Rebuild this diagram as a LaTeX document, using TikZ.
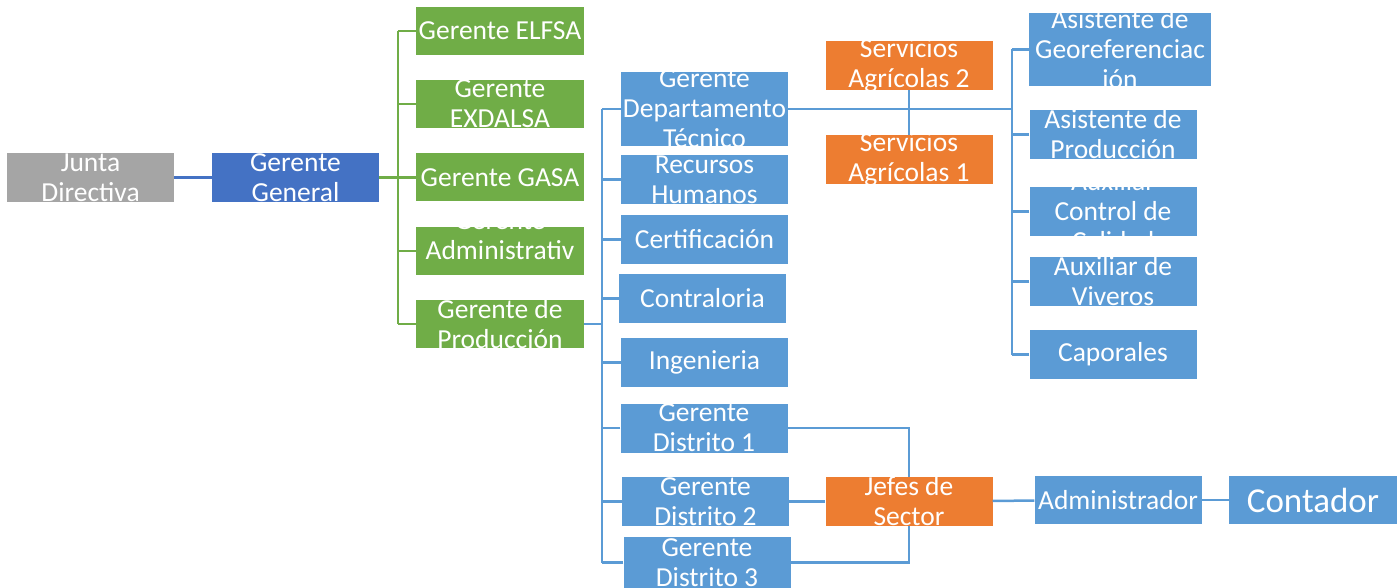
\documentclass[tikz,border=0pt]{standalone}
\usepackage{fontspec}
\setmainfont{Carlito}
\usepackage{tikz}
\definecolor{gris}{HTML}{A5A5A5}
\definecolor{azul}{HTML}{4472C4}
\definecolor{verde}{HTML}{70AD47}
\definecolor{celeste}{HTML}{5B9BD5}
\definecolor{naranja}{HTML}{ED7D31}
\tikzset{
        caja/.style={
            inner xsep=0pt, inner ysep=-20pt, minimum width=167pt, minimum height=49pt,
            text=white, align=center,
            font=\fontsize{27.5}{30}\selectfont,
        },
    }

\begin{document}
\begin{tikzpicture}[x=1pt,y=-1pt,
          gcaja/.style = {caja,fill=gris},
          acaja/.style = {caja,fill=azul},
          vcaja/.style = {caja,fill=verde,minimum width=168pt,minimum height=48pt},
          ccaja/.style = {caja,fill=celeste},
          ncaja/.style = {caja,fill=naranja},
          linea/.style = {draw=celeste,line width=2.5pt},
          vlinea/.style = {draw=verde,line width=2.5pt}
          ]
 \useasboundingbox (0,0) rectangle (1397,588);
          % izquierda
          \node[gcaja] (@junta) at (90.5,177.5) {Junta\\Directiva};
          \node[acaja] (@general) at (295.5,177.5) {Gerente\\General};
          \node[vcaja] (@elfsa) at (500,31) {Gerente ELFSA};
          \node[vcaja] (@exdalsa) at (500,104) {Gerente\\EXDALSA};
          \node[vcaja] (@gasa) at (500,177.5) {Gerente GASA};
          \node[vcaja] (@admin) at (500,251) {Gerente\\Administrativ\\o};
          \node[vcaja] (@prod) at (500,324) {Gerente de\\Producción};
          % centro
          \node[ccaja,minimum height=74pt] (@tecnico) at (704.5,109) {Gerente\\Departamento\\Técnico};
          \node[ccaja] (@rrhh) at (704.5,179.5) {Recursos\\Humanos};
          \node[ccaja] (@cert) at (704.5,239.5) {Certificación};
          \node[ccaja] (@contra) at (702.5,298.5) {Contraloria};
          \node[ccaja] (@ing) at (704.5,362.5) {Ingenieria};
          \node[ccaja] (@dist1) at (704,428) {Gerente\\Distrito 1};
          \node[ccaja] (@dist2) at (705.5,501.5) {Gerente\\Distrito 2};
          \node[ccaja,minimum height=51pt] (@dist3) at (707,562.5) {Gerente\\Distrito 3};
          \node[ncaja] (@serv2) at (909,65.5) {Servicios\\Agrícolas 2};
          \node[ncaja] (@serv1) at (909,159.5) {Servicios\\Agrícolas 1};
          \node[ncaja] (@jefes) at (909,501.5) {Jefes de\\Sector};
          % derecha
          \node[ccaja,minimum width=182pt,minimum height=73pt] (@geo) at (1120,49.5) {Asistente de\\Georeferenciac\\ión};
          \node[ccaja] (@asprod) at (1113,134.5) {Asistente de\\Producción};
          \node[ccaja] (@calidad) at (1113,211.5) {Auxiliar\\Control de\\Calidad};
          \node[ccaja] (@viveros) at (1113,281.5) {Auxiliar de\\Viveros};
          \node[ccaja] (@caporales) at (1113,354.5) {Caporales};
          \node[ccaja,minimum height=48pt] (@adminis) at (1118,500) {Administrador};
          \node[ccaja,minimum width=168pt,minimum height=48pt,font=\fontsize{35}{40}\selectfont] (@contador) at (1313,500) {Contador};
          \coordinate (@gbus) at (398,0);
          \coordinate (@pbus) at (602,0);
          \coordinate (@tbus) at (1012,0);
          \draw[draw=azul,line width=2.5pt] (@junta) -- (@general);
          \draw[vlinea] (@general.east) -- (@general.east -| @gbus);
          \draw[vlinea] (@elfsa.west -| @gbus) -- (@prod.west -| @gbus);
          \foreach \n in {@elfsa,@exdalsa,@gasa,@admin,@prod}
            \draw[vlinea] (\n.west) -- (\n.west -| @gbus);
          \draw[linea] (@prod.east) -- (@prod.east -| @pbus);
          \draw[linea] (@tecnico.west -| @pbus) -- (@dist3.west -| @pbus);
          \foreach \n in {@tecnico,@rrhh,@cert,@contra,@ing,@dist1,@dist2,@dist3}
            \draw[linea] (\n.west) -- (\n.west -| @pbus);
          \draw[linea] (@tecnico.east) -- (@tecnico.east -| @tbus);
          \draw[linea] (@geo.west -| @tbus) -- (@caporales.west -| @tbus);
          \foreach \n in {@geo,@asprod,@calidad,@viveros,@caporales}
            \draw[linea] (\n.west) -- (\n.west -| @tbus);
          \draw[linea] (@serv2) -- (@serv1);
          \draw[linea] (@dist1.east) -| (@jefes.north);
          \draw[linea] (@dist3.east) -| (@jefes.south);
          \draw[linea] (@dist2) -- (@jefes);
          \draw[linea] (@jefes) -- (@adminis);
          \draw[linea] (@adminis) -- (@contador);
        \end{tikzpicture}
\end{document}
